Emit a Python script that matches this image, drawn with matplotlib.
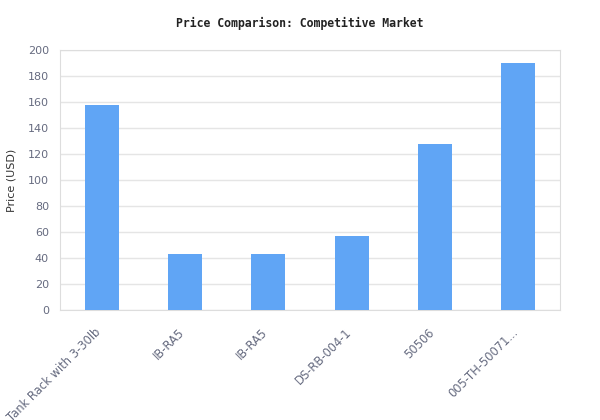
import matplotlib
matplotlib.use("Agg")
import matplotlib.pyplot as plt
from matplotlib.transforms import ScaledTranslation

categories = ["Tank Rack with 3-30lb", "IB-RA5", "IB-RA5", "DS-RB-004-1", "50506", "005-TH-50071..."]
prices = [158, 43, 43, 57, 128, 190]
yticks = list(range(0, 201, 20))

fig = plt.figure(figsize=(6, 4.2), dpi=100)
ax = fig.add_axes([0.1, 0.2619, 0.8333, 0.6191])
x = list(range(len(categories)))
ax.bar(x, prices, width=0.41, color="#60a5f5", zorder=3)
ax.set_xlim(-0.5, len(categories) - 0.5)
ax.set_ylim(0, 200)
ax.set_yticks(yticks)
ax.grid(axis="y", color="#e5e5e5", linewidth=1, zorder=0)
for s in ax.spines.values():
    s.set_color("#dddddd")
ax.tick_params(length=0, colors="#666b80", labelsize=8)
ax.tick_params(axis="y", pad=8)
ax.set_xticks(x)
ax.set_xticklabels(categories, rotation=45, ha="right", rotation_mode="anchor", fontsize=8.3)
off = ScaledTranslation(-0.07, -0.11, fig.dpi_scale_trans)
for lab in ax.get_xticklabels():
    lab.set_transform(lab.get_transform() + off)
ax.set_ylabel("Price (USD)", color="#333333", fontsize=8, labelpad=8)
fig.text(0.5, 0.945, "Price Comparison: Competitive Market", ha="center", va="center",
         fontsize=8.3, fontweight="bold", family="DejaVu Sans Mono", color="#222222")
fig.savefig("out.png", dpi=100)
